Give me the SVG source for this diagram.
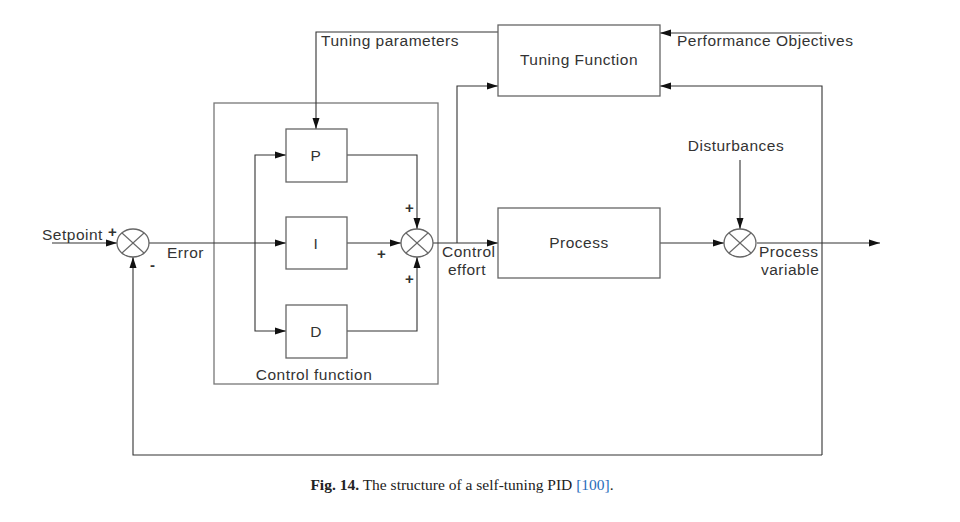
<svg xmlns="http://www.w3.org/2000/svg" width="960" height="522" viewBox="0 0 960 522">
  <defs>
    <marker id="arr" markerWidth="12" markerHeight="8" refX="11" refY="4" orient="auto" markerUnits="userSpaceOnUse">
      <path d="M0,0.5 L11,4 L0,7.5 Z" fill="#111"/>
    </marker>
    <style>
      .box { fill: #fff; stroke: #666; stroke-width: 1.3; }
      .frame { fill: none; stroke: #777; stroke-width: 1.3; }
      .ln { fill: none; stroke: #333; stroke-width: 1.1; }
      .arr { marker-end: url(#arr); }
      .sum { fill: #fff; stroke: #666; stroke-width: 1.3; }
      .x { stroke: #666; stroke-width: 1.1; }
      .t { font-family: "Liberation Sans", Arial, sans-serif; font-size: 15.5px; fill: #333; letter-spacing: 0.5px; }
      .s { font-family: "Liberation Sans", Arial, sans-serif; font-size: 15px; font-weight: bold; fill: #333; }
      .cap { font-family: "Liberation Serif", "Times New Roman", serif; font-size: 15.5px; fill: #222; }
    </style>
  </defs>
  <rect width="960" height="522" fill="#fff"/>

  <g id="control-function">
    <rect class="frame" x="214" y="103" width="224" height="281"/>
    <text class="t" x="314" y="380" text-anchor="middle">Control function</text>
  </g>

  <g id="connectors">
    <line class="ln arr" x1="52" y1="243" x2="117" y2="243"/>
    <line class="ln arr" x1="149" y1="243" x2="286" y2="243"/>
    <polyline class="ln arr" points="255,243 255,155 286,155"/>
    <polyline class="ln arr" points="255,243 255,331 286,331"/>
    <polyline class="ln arr" points="347,155 417,155 417,229"/>
    <line class="ln arr" x1="347" y1="243" x2="401" y2="243"/>
    <polyline class="ln arr" points="347,331 417,331 417,257"/>
    <line class="ln arr" x1="433" y1="243" x2="498" y2="243"/>
    <polyline class="ln arr" points="457,243 457,86 498,86"/>
    <polyline class="ln arr" points="498,32 316,32 316,129"/>
    <line class="ln arr" x1="822" y1="33" x2="660" y2="33"/>
    <line class="ln arr" x1="660" y1="243" x2="724" y2="243"/>
    <line class="ln arr" x1="757" y1="243" x2="880" y2="243"/>
    <line class="ln arr" x1="740" y1="160" x2="740" y2="229"/>
    <polyline class="ln arr" points="822,455 822,86 660,86"/>
    <polyline class="ln arr" points="822,455 133,455 133,257"/>
  </g>

  <g id="sum-error">
    <ellipse class="sum" cx="133" cy="243" rx="16" ry="14"/>
    <line class="x" x1="122" y1="233" x2="144" y2="253"/>
    <line class="x" x1="144" y1="233" x2="122" y2="253"/>
    <text class="s" x="108" y="237">+</text>
    <text class="s" x="150" y="270">-</text>
  </g>

  <g id="sum-pid">
    <ellipse class="sum" cx="417" cy="243" rx="16" ry="14"/>
    <line class="x" x1="406" y1="233" x2="428" y2="253"/>
    <line class="x" x1="428" y1="233" x2="406" y2="253"/>
    <text class="s" x="405" y="213">+</text>
    <text class="s" x="377" y="259">+</text>
    <text class="s" x="405" y="284">+</text>
  </g>

  <g id="sum-dist">
    <ellipse class="sum" cx="740" cy="243" rx="16" ry="14"/>
    <line class="x" x1="729" y1="233" x2="751" y2="253"/>
    <line class="x" x1="751" y1="233" x2="729" y2="253"/>
  </g>

  <g id="P">
    <rect class="box" x="286" y="129" width="61" height="53"/>
    <text class="t" x="316" y="161" text-anchor="middle">P</text>
  </g>
  <g id="I">
    <rect class="box" x="286" y="217" width="61" height="52"/>
    <text class="t" x="316" y="249" text-anchor="middle">I</text>
  </g>
  <g id="D">
    <rect class="box" x="286" y="305" width="61" height="53"/>
    <text class="t" x="316" y="337" text-anchor="middle">D</text>
  </g>

  <g id="tuning-function">
    <rect class="box" x="498" y="25" width="162" height="71"/>
    <text class="t" x="579" y="65" text-anchor="middle">Tuning Function</text>
  </g>

  <g id="process">
    <rect class="box" x="498" y="208" width="162" height="70"/>
    <text class="t" x="579" y="248" text-anchor="middle">Process</text>
  </g>

  <g id="labels">
    <text class="t" x="42" y="240">Setpoint</text>
    <text class="t" x="167" y="258">Error</text>
    <text class="t" x="321" y="46">Tuning parameters</text>
    <text class="t" x="677" y="46">Performance Objectives</text>
    <text class="t" x="736" y="151" text-anchor="middle">Disturbances</text>
    <text class="t" x="442" y="257">Control</text>
    <text class="t" x="448" y="275">effort</text>
    <text class="t" x="759" y="257">Process</text>
    <text class="t" x="761" y="275">variable</text>
  </g>

  <g id="caption">
    <text class="cap" x="462" y="490" text-anchor="middle"><tspan font-weight="bold">Fig. 14.</tspan> The structure of a self-tuning PID <tspan fill="#2a6ebb">[100]</tspan>.</text>
  </g>
</svg>
